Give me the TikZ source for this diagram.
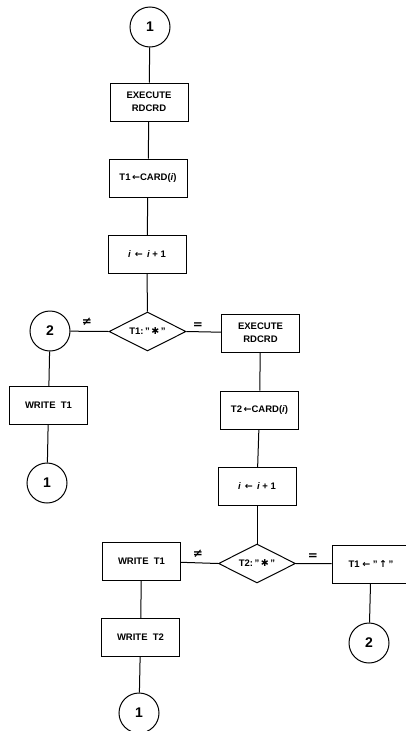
\documentclass[tikz,border=0pt]{standalone}
\usepackage{fontspec}
\setmainfont{Liberation Sans}
\newfontfamily\sym{DejaVu Sans}
\usetikzlibrary{shapes.geometric}
\begin{document}
\begin{tikzpicture}[x=1pt,y=-1pt,
  line width=1pt,
  box/.style={draw, rectangle, minimum width=78pt, minimum height=38pt, inner sep=0pt,
    font=\bfseries\fontsize{9.5}{13}\selectfont, align=center},
  dec/.style={draw, diamond, aspect=2, minimum width=77pt, minimum height=39pt, inner sep=0pt,
    font=\bfseries\fontsize{9.5}{12}\selectfont},
  conn/.style={draw, circle, minimum size=40pt, inner sep=0pt,
    font=\bfseries\fontsize{14}{14}\selectfont},
  lbl/.style={inner sep=0pt, font=\sym\bfseries\fontsize{12}{12}\selectfont}
]
\useasboundingbox (0,0) rectangle (406,731);

% main column
\node[conn] (c1) at (150,27) {1};
\node[box] (b1) at (149,102) {EXECUTE\\RDCRD};
\node[box] (b2) at (148,178) {T1\,{\sym←}CARD({\itshape i})};
\node[box] (b3) at (147,254.5) {{\itshape i}\;\,{\sym←}\;\,{\itshape i}\;+\;1};
\node[dec] (d1) at (147.5,331.5) {T1:\,"\,{\sym ✱}\,"};

% left branch
\node[conn] (c2) at (50,331) {2};
\node[box] (w1) at (48.5,405.5) {WRITE\ \ T1};
\node[conn] (c3) at (47,483) {1};

% right column
\node[box] (e2) at (260.5,333) {EXECUTE\\RDCRD};
\node[box] (b4) at (259.5,410) {T2\,{\sym←}CARD({\itshape i})};
\node[box] (b5) at (257,486.5) {{\itshape i}\;\,{\sym←}\;\,{\itshape i}\;+\;1};
\node[dec] (d2) at (257,563.5) {T2:\,"\,{\sym ✱}\,"};

% bottom left
\node[box] (w2) at (141.5,561) {WRITE\ \ T1};
\node[box] (w3) at (140.5,637.5) {WRITE\ \ T2};
\node[conn] (c4) at (139,713) {1};

% bottom right
\node[box] (t) at (371,564) {T1\;{\sym←}\;"\,{\sym ↑}\,"};
\node[conn] (c5) at (369,643) {2};

% connectors
\draw (c1) -- (b1);
\draw (b1) -- (b2);
\draw (b2) -- (b3);
\draw (b3) -- (d1);
\draw (d1.west) -- (c2);
\draw (d1.east) -- (e2);
\draw (c2) -- (w1);
\draw (w1) -- (c3);
\draw (e2) -- (b4);
\draw (b4) -- (b5);
\draw (b5) -- (d2);
\draw (d2.west) -- (w2);
\draw (w2) -- (w3);
\draw (w3) -- (c4);
\draw (d2.east) -- (t);
\draw (t) -- (c5);

% branch labels
\node[lbl] (l1) at (87,322) {≠};
\node[lbl] (l2) at (198,326) {=};
\node[lbl] (l3) at (198,554) {≠};
\node[lbl] (l4) at (313,557) {=};
\end{tikzpicture}
\end{document}
